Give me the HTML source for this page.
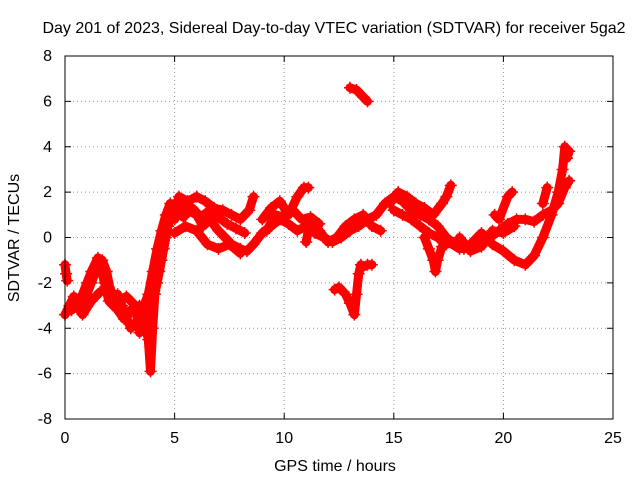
<!DOCTYPE html>
<html><head><meta charset="utf-8"><style>
body{margin:0;background:#fff}
svg{font-family:"Liberation Sans",sans-serif;font-size:16px}
</style></head><body>
<svg id="c" width="640" height="480">
<text x="334" y="33" text-anchor="middle">Day 201 of 2023, Sidereal Day-to-day VTEC variation (SDTVAR) for receiver 5ga2</text>
<text x="335" y="471" text-anchor="middle">GPS time / hours</text>
<text transform="translate(19,238) rotate(-90)" text-anchor="middle">SDTVAR / TECUs</text>
<g id="grid"></g><g id="marks"></g>
<rect x="65" y="56" width="548" height="363" fill="none" stroke="#000"/>
</svg>
<script>
const xTicks=[0,5,10,15,20,25];
const yTicks=[-8,-6,-4,-2,0,2,4,6,8];
const tracks=[
[[0,-3.4],[0.2,-3.0],[0.4,-2.6],[0.6,-2.8],[0.8,-3.2],[1.0,-2.5],[1.2,-2.0],[1.4,-1.5],[1.6,-1.2],[1.8,-2.0],[2.0,-2.8],[2.2,-3.0],[2.4,-2.5],[2.6,-3.0],[2.8,-3.5],[3.0,-4.0],[3.2,-3.8],[3.4,-3.5],[3.6,-3.0],[3.8,-2.5],[4.0,-1.5],[4.2,-0.5],[4.4,0.3],[4.6,1.0],[4.8,1.5],[5.0,1.2]],
[[0,-1.2],[0.05,-1.6],[0.1,-1.9]],
[[0.3,-3.2],[0.6,-3.0],[0.8,-2.5],[1.0,-2.0],[1.2,-1.5],[1.5,-0.9],[1.7,-1.0],[1.9,-1.5],[2.1,-2.5],[2.4,-3.2],[2.7,-3.6],[3.0,-3.2]],
[[0.4,-2.8],[0.8,-3.4],[1.2,-2.8],[1.6,-2.4],[2.0,-2.2],[2.4,-2.8],[2.8,-2.6],[3.2,-3.0],[3.4,-4.2],[3.6,-3.8],[3.8,-3.2],[4.0,-2.8],[4.2,-2.0],[4.4,-1.0],[4.6,0.0]],
[[3.4,-3.0],[3.6,-3.6],[3.8,-4.5],[3.9,-5.9],[4.0,-4.0],[4.1,-2.5],[4.3,-1.5],[4.5,-0.5],[4.7,0.5],[5.0,1.5]],
[[5.0,0.8],[5.3,1.5],[5.6,1.2],[6.0,1.0],[6.3,0.5],[6.6,0.8],[7.0,0.3],[7.3,0.0],[7.6,-0.3],[8.0,-0.5],[8.3,-0.6],[8.6,-0.3],[9.0,0.2],[9.4,0.5],[9.8,0.8],[10.2,0.6],[10.6,0.3],[11.0,0.5],[11.4,0.2],[11.8,0.0],[12.2,-0.2],[12.6,0.0],[13.0,0.3],[13.4,0.5],[13.8,0.8],[14.2,1.0],[14.6,1.5],[15.0,1.8],[15.4,1.6],[15.8,1.2],[16.2,1.0],[16.6,0.8],[17.0,0.5],[17.4,0.0],[17.8,-0.3],[18.2,-0.5],[18.6,-0.3],[19.0,-0.2],[19.4,0.0],[19.8,0.3],[20.2,0.6],[20.6,0.8],[21.0,0.8],[21.4,0.7],[21.8,1.0],[22.2,1.2],[22.5,1.5],[22.8,2.2],[23.0,2.5]],
[[5.2,1.8],[5.6,1.6],[6.0,1.8],[6.4,1.6],[6.8,1.3],[7.2,1.2],[7.6,1.0],[8.0,0.8],[8.4,1.2],[8.6,1.8]],
[[5.4,0.9],[5.8,1.3],[6.2,0.9],[6.6,1.2],[7.0,0.9],[7.4,0.6],[7.8,0.4],[8.2,0.2]],
[[9.0,0.8],[9.4,1.3],[9.8,1.6],[10.2,1.0],[10.6,1.8],[10.9,2.2],[11.1,2.2]],
[[9.2,0.3],[9.6,1.0],[10.0,0.9],[10.4,1.2],[10.8,0.8],[11.2,0.9],[11.6,0.6]],
[[5.0,0.2],[5.5,0.5],[6.0,0.3],[6.5,-0.3],[7.0,-0.5],[7.5,-0.3],[8.0,-0.7]],
[[12.3,-2.3],[12.5,-2.2],[12.7,-2.4]],
[[12.8,-2.5],[13.0,-2.9],[13.2,-3.4],[13.3,-2.5],[13.4,-1.6],[13.5,-1.2]],
[[13.6,-1.3],[13.8,-1.2],[14.0,-1.2]],
[[13.0,6.6],[13.3,6.5],[13.6,6.2],[13.8,6.0]],
[[11.0,-0.2],[11.2,0.8],[11.6,0.3],[12.0,-0.2],[12.4,0.0],[12.8,0.5],[13.2,0.8],[13.6,1.0],[14.0,0.5],[14.4,0.3]],
[[14.8,1.5],[15.2,2.0],[15.6,1.8],[16.0,1.5],[16.4,1.3],[16.8,1.0],[17.2,1.5],[17.4,1.8],[17.6,2.3]],
[[15.0,1.2],[15.4,1.0],[15.8,0.8],[16.2,0.5],[16.6,0.2],[17.0,0.0],[17.4,-0.3]],
[[16.4,0.0],[16.6,-0.5],[16.8,-1.0],[16.9,-1.5],[17.0,-1.0],[17.2,-0.4]],
[[17.5,-0.2],[18.0,-0.5],[18.5,-0.3],[19.0,0.2],[19.5,-0.3],[20.0,-0.6],[20.5,-1.0],[21.0,-1.2],[21.4,-0.8],[21.8,0.0],[22.2,1.0],[22.5,2.0],[22.7,3.0],[22.8,4.0],[22.9,3.5],[23.0,3.8]],
[[18.0,0.0],[18.5,-0.6],[19.0,-0.4],[19.5,0.3],[20.0,0.2],[20.5,0.5]],
[[19.6,1.0],[19.8,0.8],[20.2,1.8],[20.4,2.0]],
[[21.8,1.5],[22.0,2.2]]
];
const X=t=>65+t*548/25, Y=v=>237.5-v*363/16;
const ns="http://www.w3.org/2000/svg";
const g=document.getElementById('grid'), m=document.getElementById('marks');
function mk(tag,attrs,p){const e=document.createElementNS(ns,tag);for(const k in attrs)e.setAttribute(k,attrs[k]);p.appendChild(e);return e;}
xTicks.forEach(t=>{const x=X(t);
 if(t>0&&t<25){const l=mk('line',{x1:x,x2:x,y1:56,y2:419,stroke:'#999','stroke-dasharray':'1,3'},g);}
 mk('line',{x1:x,x2:x,y1:419,y2:413,stroke:'#000'},g);mk('line',{x1:x,x2:x,y1:56,y2:62,stroke:'#000'},g);
 const tx=mk('text',{x:x,y:443,'text-anchor':'middle'},g);tx.textContent=t;
 });
yTicks.forEach(v=>{const y=Y(v);
 if(v>-8&&v<8){const l=mk('line',{x1:65,x2:613,y1:y,y2:y,stroke:'#999','stroke-dasharray':'1,3'},g);}
 mk('line',{x1:65,x2:71,y1:y,y2:y,stroke:'#000'},g);mk('line',{x1:607,x2:613,y1:y,y2:y,stroke:'#000'},g);
 const tx=mk('text',{x:52,y:y+5,'text-anchor':'end'},g);tx.textContent=v;
 });
tracks.forEach(tr=>{
 const pl=mk('polyline',{points:tr.map(p=>X(p[0])+','+Y(p[1])).join(' '),fill:'none',stroke:'#f00','stroke-width':9,'stroke-linejoin':'round','stroke-linecap':'round'},m);
 
 
 tr.forEach(p=>{const x=X(p[0]),y=Y(p[1]);
  const pt=mk('path',{d:`M${x-6},${y}h12M${x},${y-6}v12`,stroke:'#f00','stroke-width':1.5},m);
  
  });
});
</script>
</body></html>
